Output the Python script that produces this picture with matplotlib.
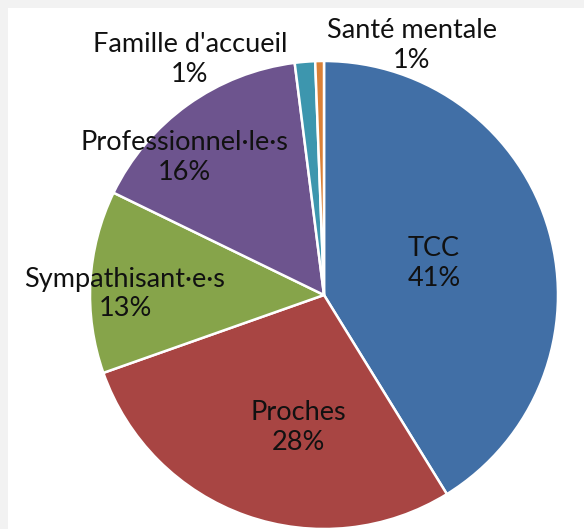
import matplotlib.pyplot as plt

# Slice data (clockwise from top)
categories = ["TCC", "Proches", "Sympathisant·e·s", "Professionnel·le·s",
              "Famille d'accueil", "Santé mentale"]
shares = [41.2, 28.4, 12.6, 15.8, 1.4, 0.6]
colors = ["#416FA6", "#A84543", "#86A44A", "#6D548E", "#3D96AE", "#DA8137"]

W, H = 584, 529
fig = plt.figure(figsize=(W / 100, H / 100), dpi=100)
fig.patch.set_facecolor("#F2F2F2")

# white chart area (gray strip on top and left)
bg = fig.add_axes([8 / W, 0, 1 - 8 / W, 1 - 8 / H])
bg.set_facecolor("white")
bg.set_xticks([])
bg.set_yticks([])
for s in bg.spines.values():
    s.set_visible(False)

# pie box in pixels: centre (324, 295), radius 234
cx, cy, r = 324, 295, 234
ax = fig.add_axes([(cx - r) / W, (H - cy - r) / H, 2 * r / W, 2 * r / H])
ax.pie(shares, colors=colors, startangle=90, counterclock=False,
       wedgeprops=dict(edgecolor="white", linewidth=1.8))
ax.set_xlim(-1.0, 1.0)
ax.set_ylim(-1.0, 1.0)
ax.set_aspect("equal")
ax.axis("off")

# label centres in pixels (x, y from top)
label_pos = [(434, 263), (298, 427), (125, 294), (184, 157), (190, 59), (412, 45)]
for name, val, (x, y) in zip(categories, shares, label_pos):
    fig.text(x / W, 1 - y / H, f"{name}\n{round(val)}%", ha="center", va="center",
             fontsize=19.5, family=["Lato", "DejaVu Sans"], color="#111111",
             linespacing=1.25, zorder=5)

fig.savefig("out.png", dpi=100, facecolor=fig.get_facecolor())
